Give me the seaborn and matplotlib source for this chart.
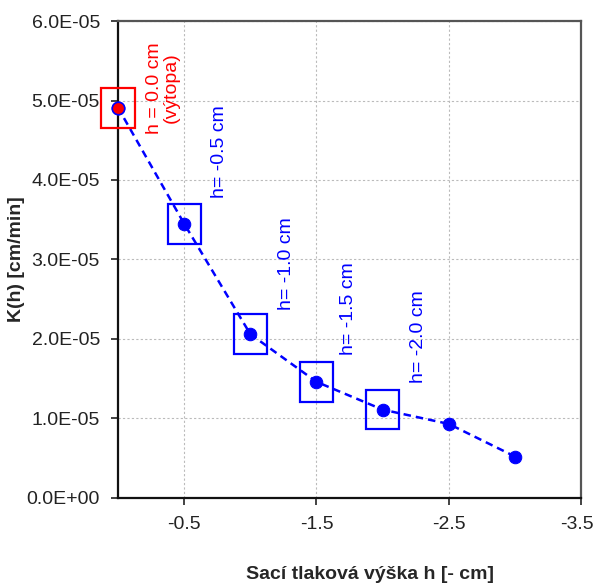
import numpy as np
import pandas as pd
import matplotlib
matplotlib.use('Agg')
import matplotlib.pyplot as plt
import matplotlib.ticker as mticker
import matplotlib.transforms as mtransforms
from matplotlib.patches import Rectangle
import seaborn as sns

# ── data ───────────────────────────────────────────────
h_vals = [0.0, -0.5, -1.0, -1.5, -2.0, -2.5, -3.0]
k_vals = [4.91e-5, 3.45e-5, 2.06e-5, 1.46e-5, 1.11e-5, 0.93e-5, 0.52e-5]
boxed_idx = [0, 1, 2, 3, 4]
box_colors = ['#FF0000', '#0000FF', '#0000FF', '#0000FF', '#0000FF']
labels = ['h = 0.0 cm\n(výtopa)', 'h= -0.5 cm', 'h= -1.0 cm', 'h= -1.5 cm', 'h= -2.0 cm']
label_x = [-0.34, -0.77, -1.27, -1.74, -2.27]
label_y = [5.16e-5, 3.77e-5, 2.36e-5, 1.80e-5, 1.45e-5]
label_va = ['center', 'bottom', 'bottom', 'bottom', 'bottom']
xticks = [-0.5, -1.5, -2.5, -3.5]

df = pd.DataFrame({'h': h_vals, 'K': k_vals})

sns.set_style('white')
plt.rcParams['font.family'] = ['Liberation Sans', 'DejaVu Sans']

BLUE = '#0000FF'
RED = '#FF0000'

fig = plt.figure(figsize=(5.96, 5.85), dpi=100)
ax = fig.add_axes([0.198, 0.149, 0.777, 0.815])

sns.lineplot(data=df, x='h', y='K', ax=ax, color=BLUE, linestyle=(0, (3, 2)),
             linewidth=1.8, marker='o', markersize=9, markeredgecolor=BLUE,
             markerfacecolor=BLUE, zorder=4, clip_on=False)
# first point red
ax.plot(h_vals[0], k_vals[0], 'o', markersize=9, markerfacecolor=RED,
        markeredgecolor=BLUE, markeredgewidth=1.2, zorder=5, clip_on=False)

# boxes around points
bw, bh = 0.25, 0.5e-5
for i, c in zip(boxed_idx, box_colors):
    ax.add_patch(Rectangle((h_vals[i] - bw / 2, k_vals[i] - bh / 2), bw, bh,
                           fill=False, edgecolor=c, linewidth=1.6, zorder=6,
                           clip_on=False))

for t, x, y, va, c in zip(labels, label_x, label_y, label_va, box_colors):
    ax.text(x, y, t, rotation=90, color=c, fontsize=14, ha='center', va=va,
            multialignment='center', linespacing=1.0)

ax.set_xlim(0, -3.5)
ax.set_ylim(0, 6e-5)
ax.set_xticks(xticks)
ax.xaxis.set_major_formatter(mticker.FormatStrFormatter('%.1f'))
ax.yaxis.set_major_locator(mticker.MultipleLocator(1e-5))
ax.yaxis.set_major_formatter(mticker.FuncFormatter(lambda v, p: '%.1E' % v))
ax.tick_params(axis='both', direction='out', length=5, width=1.2,
               labelsize=14, pad=8, colors='#222222', left=True, bottom=True)

# keep the last x tick label inside the figure
last = ax.get_xticklabels()[-1]
last.set_transform(last.get_transform() +
                   mtransforms.ScaledTranslation(-4 / 100, 0, fig.dpi_scale_trans))

ax.grid(True, color='#BBBBBB', linestyle=(0, (2, 2)), linewidth=0.8)
ax.set_axisbelow(True)
for s in ['left', 'bottom']:
    ax.spines[s].set_color('#111111')
    ax.spines[s].set_linewidth(1.6)
for s in ['top', 'right']:
    ax.spines[s].set_color('#555555')
    ax.spines[s].set_linewidth(1.6)

ax.set_xlabel('Sací tlaková výška h [- cm]', fontsize=14, fontweight='bold')
ax.set_ylabel('K(h) [cm/min]', fontsize=14, fontweight='bold')
ax.xaxis.set_label_coords(0.544, -0.143)
ax.yaxis.set_label_coords(-0.200, 0.5)

plt.savefig('out.png', dpi=100)
